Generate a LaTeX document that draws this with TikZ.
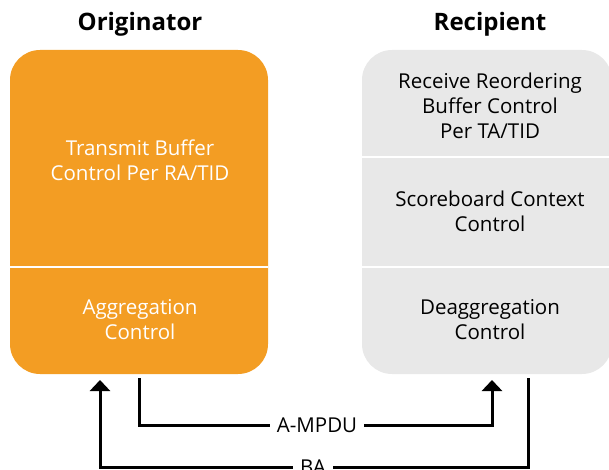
\documentclass[tikz,border=0pt]{standalone}
\usepackage{fontspec}
\setmainfont{Open Sans}
\usetikzlibrary{positioning,arrows.meta}
\definecolor{origorange}{RGB}{243,157,35}
\definecolor{recgrey}{RGB}{232,232,232}

\begin{document}
\begin{tikzpicture}[x=1pt,y=-1pt,>={Triangle[length=11pt,width=20pt]},
      block/.style={rounded corners=30pt,minimum height=324pt,inner sep=0pt},
      title/.style={font=\fontsize{24}{28}\selectfont\bfseries},
      boxtext/.style={align=center,font=\fontsize{20.5}{25}\selectfont},
      divider/.style={white,line width=2pt},
      flow/.style={line width=3pt,black},
      msg/.style={fill=white,inner xsep=7pt,inner ysep=2pt,font=\fontsize{20.5}{24}\selectfont}]

      \useasboundingbox (0,0) rectangle (609,470);

      % titles
      \node[title] (torig) at (140,24) {Originator};
      \node[title] (trecp) at (490,24) {Recipient};

      % originator
      \node[block,fill=origorange,minimum width=258pt] (orig) at (139,212) {};
      \draw[divider] (orig.west |- 0,267) -- (orig.east |- 0,267);
      \node[boxtext,text=white] (txbuf) at (140,160) {Transmit Buffer\\Control Per RA/TID};
      \node[boxtext,text=white] (aggr) at (140,320) {Aggregation\\Control};

      % recipient
      \node[block,fill=recgrey,minimum width=250pt] (recp) at (487,212) {};
      \draw[divider] (recp.west |- 0,157) -- (recp.east |- 0,157);
      \draw[divider] (recp.west |- 0,267) -- (recp.east |- 0,267);
      \node[boxtext] (rxbuf) at (490,106) {Receive Reordering\\Buffer Control\\Per TA/TID};
      \node[boxtext] (score) at (490,211) {Scoreboard Context\\Control};
      \node[boxtext] (deaggr) at (490,320) {Deaggregation\\Control};

      % messages
      \node[msg] (ampdu) at (317,425) {A-MPDU};
      \node[msg] (ba) at (313,467) {BA};
      \coordinate (aggout) at (139,378);
      \coordinate (deaggin) at (492,380);
      \coordinate (deaggout) at (528,378);
      \coordinate (aggin) at (100,380);
      \draw[flow] (aggout) |- (ampdu.west);
      \draw[flow,->] (ampdu.east) -| (deaggin);
      \draw[flow] (deaggout) |- (ba.east);
      \draw[flow,->] (ba.west) -| (aggin);
\end{tikzpicture}
\end{document}
